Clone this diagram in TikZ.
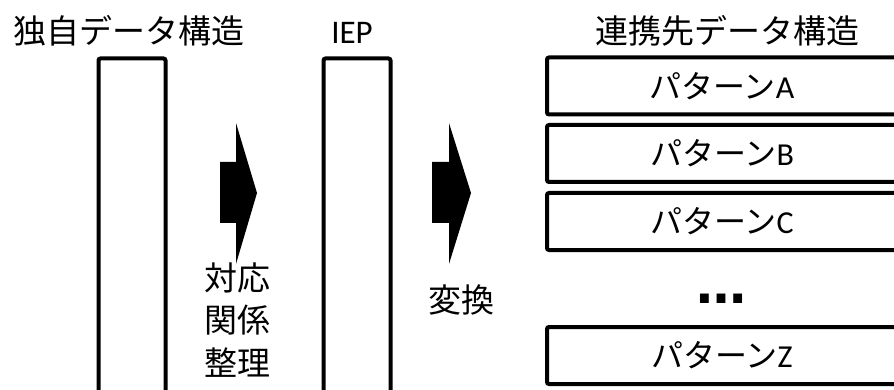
\documentclass[tikz,border=0pt]{standalone}
\usepackage{fontspec}
\setmainfont{Noto Sans CJK JP}
\newfontfamily\lat{Carlito}
\newfontfamily\dv{DejaVu Sans}
\begin{document}
\begin{tikzpicture}[x=1pt,y=-1pt,
  every node/.style={inner sep=0pt, outer sep=0pt},
  title/.style={font=\fontsize{33}{40}\selectfont},
  label/.style={font=\fontsize{33}{42.5}\selectfont, align=center},
  column/.style={draw, line width=4pt, rounded corners=2pt, minimum width=67pt, minimum height=370pt},
  pbox/.style={draw, line width=4pt, rounded corners=2pt, minimum width=350pt, minimum height=57pt, font=\fontsize{32}{38}\selectfont},
  blockarrow/.style={fill=black}
]
\useasboundingbox (0,0) rectangle (894,390);
% titles
\node[title] (t1) at (129,31) {独自データ構造};
\node[title] (t2) at (352,33) {\lat IEP};
\node[title] (t3) at (727,31) {連携先データ構造};
% tall columns (run off the bottom)
\node[column, anchor=north west] (c1) at (98.5,58.5) {};
\node[column, anchor=north west] (c2) at (323.5,58.5) {};
% block arrows
\fill[blockarrow] (220,162) -- (236,162) -- (236,123) -- (257,193) -- (236,264) -- (236,223) -- (220,223) -- cycle;
\fill[blockarrow] (432,162) -- (449,162) -- (449,123) -- (471,193) -- (449,264) -- (449,223) -- (432,223) -- cycle;
% labels
\node[label] (l1) at (237,320) {対応\\関係\\整理};
\node[label] (l2) at (461,300) {変換};
% pattern boxes
\node[pbox] (pa) at (722,86) {パターン{\lat A}};
\node[pbox] (pb) at (722,153.5) {パターン{\lat B}};
\node[pbox] (pc) at (722,221.5) {パターン{\lat C}};
\node[font={\dv\bfseries\fontsize{50}{50}\selectfont}, anchor=base] (dots) at (721,303) {…};
\node[pbox] (pz) at (722,355.5) {パターン{\lat Z}};
\end{tikzpicture}
\end{document}
